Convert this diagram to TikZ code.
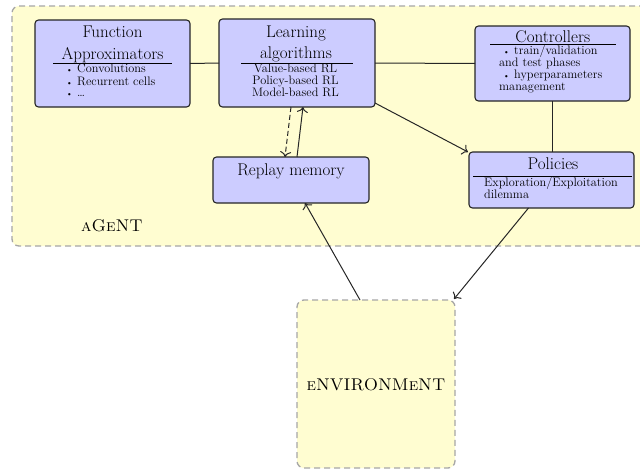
\documentclass[tikz,border=0pt]{standalone}
\usetikzlibrary{arrows.meta}
\begin{document}
\begin{tikzpicture}[x=1pt,y=-1pt,
  box/.style={draw=black!85, line width=1.1pt, fill=blue!20, rounded corners=3.5pt, inner sep=0pt, outer sep=0pt},
  zone/.style={draw=black!35, line width=1.3pt, dash pattern=on 6pt off 4pt, fill=yellow!18, rounded corners=7pt, inner sep=0pt, outer sep=0pt},
  ttl/.style={font=\fontsize{17}{21}\selectfont, inner sep=0pt, anchor=base},
  sml/.style={font=\fontsize{12.3}{12.5}\selectfont, inner sep=0pt, anchor=base},
  smlw/.style={sml, anchor=base west},
  hrule/.style={line width=1pt, draw=black},
  conn/.style={line width=1pt, draw=black!85},
  arr/.style={conn, -{To[length=5.5pt,width=11pt]}},
  darr/.style={arr, dash pattern=on 5pt off 3pt}
]
\useasboundingbox (0,0) rectangle (640,471);
\newcommand{\blt}{\makebox[11pt][l]{\fontsize{8}{8}\selectfont\textbullet}}

% regions
\node[zone, minimum width=650pt, minimum height=240pt] (agent) at (337,126) {};
\node[zone, minimum width=158pt, minimum height=168pt] (env) at (376,384) {};
\node[font=\fontsize{17}{21}\selectfont, inner sep=0pt, anchor=base] (agentlbl) at (112,231) {\textsc{aGeNT}};
\node[font=\fontsize{17}{21}\selectfont, inner sep=0pt, anchor=base] (envlbl) at (376,390) {\textsc{eNVIRONMeNT}};

% boxes
\node[box, minimum width=155pt, minimum height=87pt] (fa) at (112.5,63.5) {};
\node[box, minimum width=156pt, minimum height=88pt] (la) at (297,63) {};
\node[box, minimum width=155pt, minimum height=75pt] (ctrl) at (552.5,63.5) {};
\node[box, minimum width=156pt, minimum height=46pt] (rm) at (291,180) {};
\node[box, minimum width=165pt, minimum height=56pt] (pol) at (551.5,180) {};

% Function approximators content
\node[ttl] (fa1) at (112.5,37) {Function};
\node[ttl] (fa2) at (112.5,59) {Approximators};
\draw[hrule] (53,63) -- (172,63);
\node[smlw] (fa3) at (66,72.7) {\blt Convolutions};
\node[smlw] (fa4) at (66,85) {\blt Recurrent cells};
\node[smlw] (fa5) at (66,96.7) {\blt \dots};

% Learning algorithms content
\node[ttl] (la1) at (296,37) {Learning};
\node[ttl] (la2) at (296,58) {algorithms};
\draw[hrule] (241,63) -- (353,63);
\node[sml] (la3) at (295.5,72.7) {Value-based RL};
\node[sml] (la4) at (295.5,84.5) {Policy-based RL};
\node[sml] (la5) at (295.5,96.5) {Model-based RL};

% Controllers content
\node[ttl] (ct1) at (552.8,42.5) {Controllers};
\draw[hrule] (490,44.5) -- (616,44.5);
\node[smlw] (ct2) at (503,54.5) {\blt train/validation};
\node[smlw] (ct3) at (499,66.5) {and test phases};
\node[smlw] (ct4) at (503,78) {\blt hyperparameters};
\node[smlw] (ct5) at (499,90) {management};

% Replay memory content
\node[ttl] (rm1) at (291,175) {Replay memory};

% Policies content
\node[ttl] (po1) at (553,169) {Policies};
\draw[hrule] (473,176) -- (632,176);
\node[smlw] (po2) at (484,186) {Exploration/Exploitation};
\node[smlw] (po3) at (484,198) {dilemma};

% connectors
\draw[conn] (fa.east) -- (la.west);
\draw[conn] (la.east) -- (ctrl.west);
\draw[conn] (ctrl.south) -- (ctrl.south |- pol.north);
\draw[arr] ([yshift=4pt]la.south east) -- ([xshift=-1pt]pol.north west);
\draw[darr] ([xshift=-6pt]la.south) -- ([xshift=-6pt]rm.north);
\draw[arr] ([xshift=6pt]rm.north) -- ([xshift=6pt]la.south);
\draw[arr] ([xshift=-16pt]env.north) -- ([xshift=14pt]rm.south);
\draw[arr] ([xshift=-23pt]pol.south) -- ([xshift=-1pt,yshift=1pt]env.north east);
\end{tikzpicture}
\end{document}
